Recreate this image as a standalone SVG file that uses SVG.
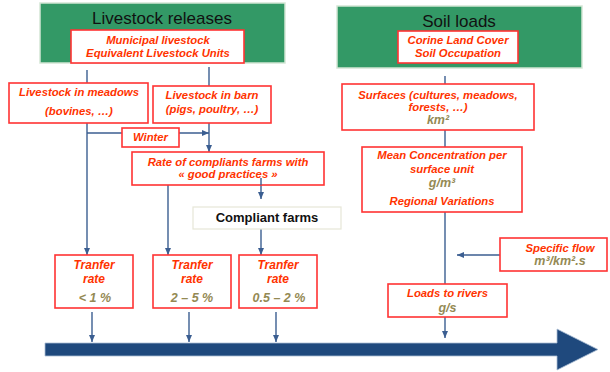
<svg xmlns="http://www.w3.org/2000/svg" width="610" height="372" viewBox="0 0 610 372">
  <style>
    .head { fill: #339966; stroke: #D3E6D5; stroke-width: 1.5; }
    .title { font-family: "Liberation Sans", Arial, sans-serif; font-size: 17px; fill: #111; text-anchor: middle; }
    .box { fill: #fff; stroke: #FF3333; stroke-width: 1.6; }
    .pale { fill: #fff; stroke: #E6E6D8; stroke-width: 1.2; }
    .t { font-family: "Liberation Sans", Arial, sans-serif; font-size: 11.3px; font-weight: bold; font-style: italic; fill: #FF3300; text-anchor: middle; }
    .t2 { font-size: 12px; }
    .u { font-family: "Liberation Sans", Arial, sans-serif; font-size: 12.5px; font-weight: bold; font-style: italic; fill: #948A54; text-anchor: middle; }
    .k { font-family: "Liberation Sans", Arial, sans-serif; font-size: 13px; font-weight: bold; fill: #111; text-anchor: middle; }
    .ln { fill: none; stroke: #3B5E91; stroke-width: 1.4; }
    .ar { marker-end: url(#tip); }
  </style>
  <defs>
    <marker id="tip" markerUnits="userSpaceOnUse" markerWidth="8" markerHeight="8" viewBox="0 0 8 8" refX="7" refY="4" orient="auto">
      <path d="M0,1 L7,4 L0,7 Z" fill="#3B5E91"/>
    </marker>
  </defs>

  <!-- section headers -->
  <g id="livestock-releases">
    <rect class="head" x="40" y="3" width="245" height="60"/>
    <text class="title" x="162" y="24">Livestock releases</text>
  </g>
  <g id="soil-loads">
    <rect class="head" x="337" y="6" width="245" height="62"/>
    <text class="title" x="459" y="27">Soil loads</text>
  </g>

  <!-- connectors -->
  <g id="connectors">
    <path class="ln" d="M87,70 V83"/>
    <path class="ln ar" d="M87,123 V255"/>
    <path class="ln ar" d="M87,133 H209"/>
    <path class="ln" d="M209,67 V86"/>
    <path class="ln ar" d="M209,123 V152"/>
    <path class="ln ar" d="M168,185 V255"/>
    <path class="ln ar" d="M261,178 V199"/>
    <path class="ln ar" d="M261,229 V255"/>
    <path class="ln ar" d="M92,312 V342"/>
    <path class="ln ar" d="M189,312 V342"/>
    <path class="ln ar" d="M276,312 V342"/>
    <path class="ln" d="M445,76 V84"/>
    <path class="ln" d="M445,130 V147"/>
    <path class="ln" d="M445,212 V284"/>
    <path class="ln ar" d="M445,317 V338"/>
    <path class="ln ar" d="M500,255 H457"/>
  </g>

  <!-- livestock branch -->
  <g id="municipal">
    <rect class="box" x="71" y="30" width="173" height="33"/>
    <text class="t" x="158" y="44">Municipal livestock</text>
    <text class="t" x="158" y="57">Equivalent  Livestock Units</text>
  </g>
  <g id="meadows">
    <rect class="box" x="9" y="83" width="139" height="40"/>
    <text class="t" x="79" y="96">Livestock in meadows</text>
    <text class="t" x="79" y="115">(bovines, …)</text>
  </g>
  <g id="barn">
    <rect class="box" x="153" y="86" width="118" height="37"/>
    <text class="t" x="212" y="99">Livestock in barn</text>
    <text class="t" x="212" y="113">(pigs, poultry, …)</text>
  </g>
  <g id="winter">
    <rect class="box" x="122" y="128" width="57" height="19"/>
    <text class="t" x="150.5" y="141">Winter</text>
  </g>
  <g id="rate">
    <rect class="box" x="132" y="152" width="192" height="33"/>
    <text class="t" x="228" y="166">Rate of compliants farms with</text>
    <text class="t" x="228" y="178">« good practices »</text>
  </g>
  <path class="ln" d="M261,178 V185"/>
  <g id="compliant">
    <rect class="pale" x="193" y="207" width="148" height="22"/>
    <text class="k" x="267" y="222">Compliant farms</text>
  </g>
  <g id="transfer-1">
    <rect class="box" x="55" y="255" width="78" height="53"/>
    <text class="t t2" x="94" y="269">Tranfer</text>
    <text class="t t2" x="94" y="283">rate</text>
    <text class="u" x="95" y="302">&lt; 1 %</text>
  </g>
  <g id="transfer-2">
    <rect class="box" x="153" y="255" width="78" height="53"/>
    <text class="t t2" x="192" y="269">Tranfer</text>
    <text class="t t2" x="192" y="283">rate</text>
    <text class="u" x="192" y="302">2 – 5 %</text>
  </g>
  <g id="transfer-3">
    <rect class="box" x="239" y="255" width="78" height="53"/>
    <text class="t t2" x="278" y="269">Tranfer</text>
    <text class="t t2" x="278" y="283">rate</text>
    <text class="u" x="279" y="302">0.5 – 2 %</text>
  </g>

  <!-- soil branch -->
  <g id="corine">
    <rect class="box" x="398" y="31" width="120" height="32"/>
    <text class="t" x="458" y="44">Corine Land Cover</text>
    <text class="t" x="458" y="57">Soil Occupation</text>
  </g>
  <g id="surfaces">
    <rect class="box" x="342" y="84" width="192" height="46"/>
    <text class="t" x="438" y="99">Surfaces (cultures, meadows,</text>
    <text class="t" x="438" y="111">forests,  …)</text>
    <text class="u" x="438" y="124">km²</text>
  </g>
  <g id="concentration">
    <rect class="box" x="362" y="147" width="160" height="65"/>
    <text class="t" x="442" y="159">Mean Concentration per</text>
    <text class="t" x="442" y="173">surface unit</text>
    <text class="u" x="442" y="187">g/m³</text>
    <text class="t" x="442" y="205">Regional Variations</text>
  </g>
  <g id="specific-flow">
    <rect class="box" x="500" y="238" width="107" height="33"/>
    <text class="t" x="560" y="252">Specific flow</text>
    <text class="u" x="560" y="265">m³/km².s</text>
  </g>
  <g id="loads">
    <rect class="box" x="388" y="284" width="119" height="33"/>
    <text class="t" x="447.5" y="297">Loads to rivers</text>
    <text class="u" x="447.5" y="312">g/s</text>
  </g>

  <!-- river axis -->
  <g id="river">
    <polygon points="45,343 557,343 557,329 598,349.5 557,370 557,356 45,356" fill="#1F497D" stroke="#A9BCD3" stroke-width="0.8"/>
  </g>
</svg>
